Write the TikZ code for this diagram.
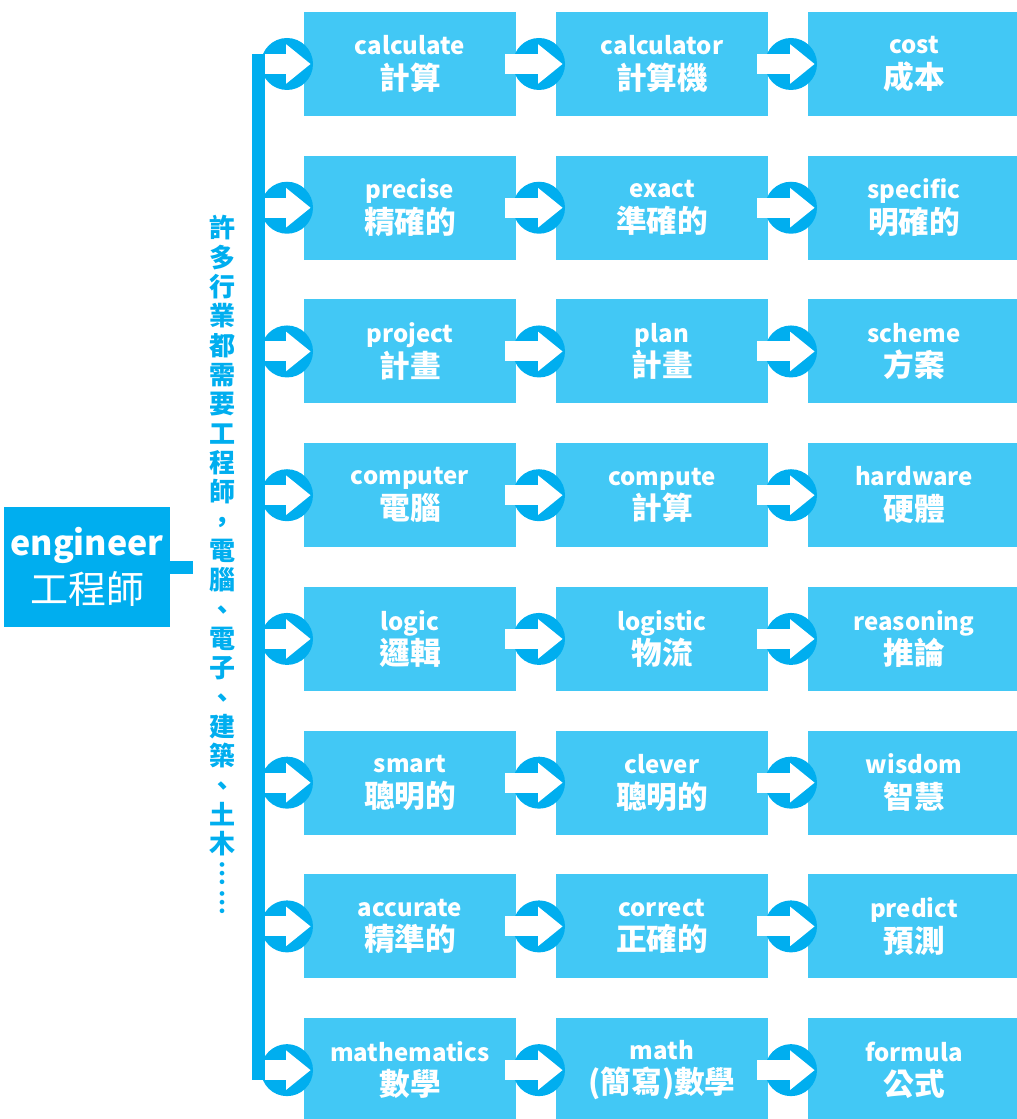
\documentclass[tikz,border=0pt]{standalone}
\usepackage{fontspec}
\setmainfont{Noto Sans CJK TC}
\usetikzlibrary{arrows.meta, positioning}
\definecolor{skyfill}{HTML}{42C8F5}
\definecolor{deepsky}{HTML}{00AEEF}
\newcommand{\zh}{\fontsize{23pt}{26pt}\selectfont}

\begin{document}
\begin{tikzpicture}[
    x=0.75pt, y=-0.75pt,
    node distance = 29.8pt and 30pt,
    box/.style = {rectangle, minimum width=159pt, minimum height=78pt, inner sep=0pt,
                  outer sep=0pt, fill=skyfill, text=white, align=center,
                  font=\fontsize{18pt}{26pt}\selectfont\bfseries},
    hub/.style = {rectangle, minimum width=124.5pt, minimum height=90pt, inner sep=0pt,
                  outer sep=0pt, fill=deepsky, text=white, align=center,
                  font=\fontsize{25.5pt}{36pt}\selectfont\bfseries},
    vtext/.style = {text=deepsky, align=center, inner sep=0pt,
                    font=\fontsize{19.5pt}{22pt}\selectfont\bfseries},
    dot/.style = {circle, fill=deepsky, minimum size=39pt, inner sep=0pt, behind path},
    flow/.style = {-{Triangle[width=28.5pt, length=18.5pt]}, line width=15pt, white},
    rail/.style = {line width=9.75pt, deepsky}
  ]
    \useasboundingbox (0,0) rectangle (1016,1119);

    % Hub
    \node[hub, anchor=north west] (engineer) at (4,507)
        {engineer\\{\mdseries\fontsize{28.5pt}{36pt}\selectfont 工程師}};
    \coordinate (stub) at (193,567);
    \draw[rail] (engineer.east) -- (stub);

    % Side note
    \node[vtext] (note) at (222,564.5)
        {許\\多\\行\\業\\都\\需\\要\\工\\程\\師\\，\\電\\腦\\、\\電\\子\\、\\建\\築\\、\\土\\木\\︙\\︙};

    % Rail
    \coordinate (railtop) at (258.5,54);
    \coordinate (railbot) at (258.5,1080);
    \draw[rail] (railtop) -- (railbot);

    % Words
    \node[box, anchor=north west] (calculate) at (304,12) {calculate\\{\zh 計算}};
    \node[box, right=of calculate] (calculator) {calculator\\{\zh 計算機}};
    \node[box, right=of calculator] (cost) {cost\\{\zh 成本}};

    \node[box, below=of calculate] (precise) {precise\\{\zh 精確的}};
    \node[box, right=of precise] (exact) {exact\\{\zh 準確的}};
    \node[box, right=of exact] (specific) {specific\\{\zh 明確的}};

    \node[box, below=of precise] (project) {project\\{\zh 計畫}};
    \node[box, right=of project] (plan) {plan\\{\zh 計畫}};
    \node[box, right=of plan] (scheme) {scheme\\{\zh 方案}};

    \node[box, below=of project] (computer) {computer\\{\zh 電腦}};
    \node[box, right=of computer] (compute) {compute\\{\zh 計算}};
    \node[box, right=of compute] (hardware) {hardware\\{\zh 硬體}};

    \node[box, below=of computer] (logic) {logic\\{\zh 邏輯}};
    \node[box, right=of logic] (logistic) {logistic\\{\zh 物流}};
    \node[box, right=of logistic] (reasoning) {reasoning\\{\zh 推論}};

    \node[box, below=of logic] (smart) {smart\\{\zh 聰明的}};
    \node[box, right=of smart] (clever) {clever\\{\zh 聰明的}};
    \node[box, right=of clever] (wisdom) {wisdom\\{\zh 智慧}};

    \node[box, below=of smart] (accurate) {accurate\\{\zh 精準的}};
    \node[box, right=of accurate] (correct) {correct\\{\zh 正確的}};
    \node[box, right=of correct] (predict) {predict\\{\zh 預測}};

    \node[box, below=of accurate] (mathematics) {mathematics\\{\zh 數學}};
    \node[box, right=of mathematics] (math) {math\\{\zh (簡寫)數學}};
    \node[box, right=of math] (formula) {formula\\{\zh 公式}};

    % Arrows from rail
    \draw[flow] ([xshift=-29.25pt]calculate.west) -- ([xshift=5pt]calculate.west) node[dot, xshift=-17.75pt] {};
    \draw[flow] ([xshift=-29.25pt]precise.west) -- ([xshift=5pt]precise.west) node[dot, xshift=-17.75pt] {};
    \draw[flow] ([xshift=-29.25pt]project.west) -- ([xshift=5pt]project.west) node[dot, xshift=-17.75pt] {};
    \draw[flow] ([xshift=-29.25pt]computer.west) -- ([xshift=5pt]computer.west) node[dot, xshift=-17.75pt] {};
    \draw[flow] ([xshift=-29.25pt]logic.west) -- ([xshift=5pt]logic.west) node[dot, xshift=-17.75pt] {};
    \draw[flow] ([xshift=-29.25pt]smart.west) -- ([xshift=5pt]smart.west) node[dot, xshift=-17.75pt] {};
    \draw[flow] ([xshift=-29.25pt]accurate.west) -- ([xshift=5pt]accurate.west) node[dot, xshift=-17.75pt] {};
    \draw[flow] ([xshift=-29.25pt]mathematics.west) -- ([xshift=5pt]mathematics.west) node[dot, xshift=-17.75pt] {};

    % Arrows along rows
    \draw[flow] ([xshift=-8.25pt]calculate.east) -- ([xshift=5pt]calculator.west) node[dot, xshift=-17.75pt] {};
    \draw[flow] ([xshift=-8.25pt]calculator.east) -- ([xshift=5pt]cost.west) node[dot, xshift=-17.75pt] {};
    \draw[flow] ([xshift=-8.25pt]precise.east) -- ([xshift=5pt]exact.west) node[dot, xshift=-17.75pt] {};
    \draw[flow] ([xshift=-8.25pt]exact.east) -- ([xshift=5pt]specific.west) node[dot, xshift=-17.75pt] {};
    \draw[flow] ([xshift=-8.25pt]project.east) -- ([xshift=5pt]plan.west) node[dot, xshift=-17.75pt] {};
    \draw[flow] ([xshift=-8.25pt]plan.east) -- ([xshift=5pt]scheme.west) node[dot, xshift=-17.75pt] {};
    \draw[flow] ([xshift=-8.25pt]computer.east) -- ([xshift=5pt]compute.west) node[dot, xshift=-17.75pt] {};
    \draw[flow] ([xshift=-8.25pt]compute.east) -- ([xshift=5pt]hardware.west) node[dot, xshift=-17.75pt] {};
    \draw[flow] ([xshift=-8.25pt]logic.east) -- ([xshift=5pt]logistic.west) node[dot, xshift=-17.75pt] {};
    \draw[flow] ([xshift=-8.25pt]logistic.east) -- ([xshift=5pt]reasoning.west) node[dot, xshift=-17.75pt] {};
    \draw[flow] ([xshift=-8.25pt]smart.east) -- ([xshift=5pt]clever.west) node[dot, xshift=-17.75pt] {};
    \draw[flow] ([xshift=-8.25pt]clever.east) -- ([xshift=5pt]wisdom.west) node[dot, xshift=-17.75pt] {};
    \draw[flow] ([xshift=-8.25pt]accurate.east) -- ([xshift=5pt]correct.west) node[dot, xshift=-17.75pt] {};
    \draw[flow] ([xshift=-8.25pt]correct.east) -- ([xshift=5pt]predict.west) node[dot, xshift=-17.75pt] {};
    \draw[flow] ([xshift=-8.25pt]mathematics.east) -- ([xshift=5pt]math.west) node[dot, xshift=-17.75pt] {};
    \draw[flow] ([xshift=-8.25pt]math.east) -- ([xshift=5pt]formula.west) node[dot, xshift=-17.75pt] {};

  \end{tikzpicture}
\end{document}
